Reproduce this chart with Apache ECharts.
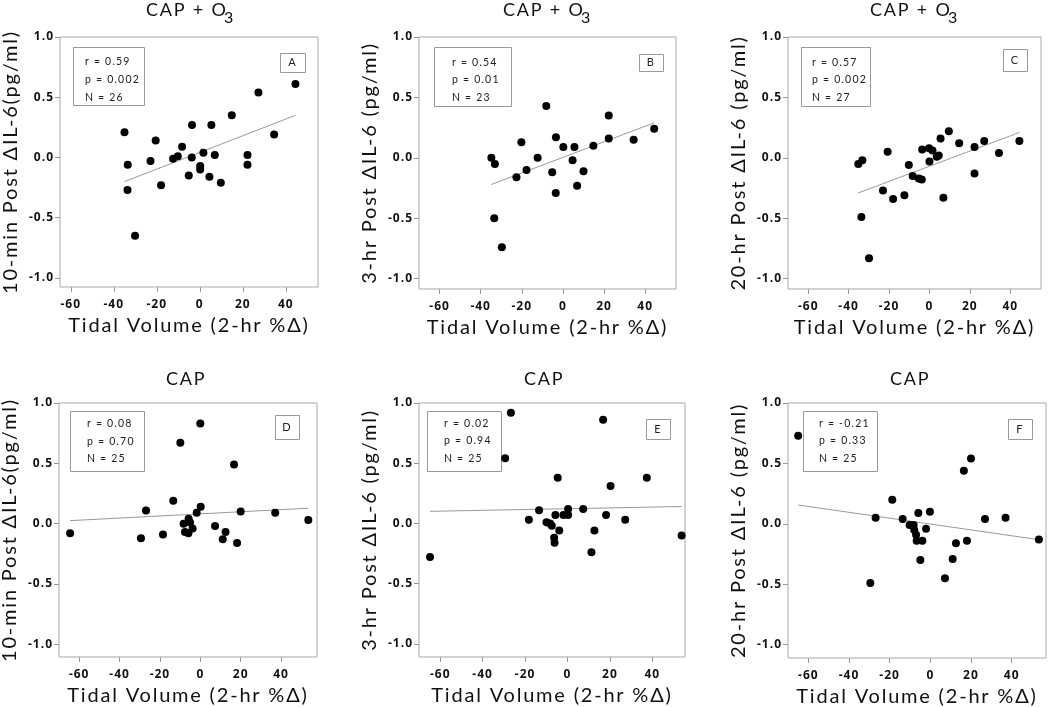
<!DOCTYPE html>
<html><head><meta charset="utf-8">
<script src="https://cdn.jsdelivr.net/npm/echarts@6/dist/echarts.min.js"></script>
<style>html,body{margin:0;padding:0;background:#fff}#c{width:1050px;height:707px}</style>
</head><body><div id="c"></div><script>
// ---------- data ----------
const xTicks = [-60, -40, -20, 0, 20, 40];
const yTicks = [-1, -0.5, 0, 0.5, 1];
const xTitle = 'Tidal Volume (2-hr %Δ)';

const aX = [-35.0,-33.5,-33.6,-30.1,-22.9,-20.5,-18.0,-12.4,-10.2,-8.2,-5.1,-3.6,-3.7,0.2,0.2,1.7,4.5,5.4,7.0,9.8,14.9,22.2,22.2,27.3,34.6,44.5];
const aY = [0.21,-0.06,-0.27,-0.65,-0.03,0.14,-0.23,-0.01,0.01,0.09,-0.15,0.27,0.0,-0.07,-0.10,0.04,-0.16,0.27,0.02,-0.21,0.35,0.02,-0.06,0.54,0.19,0.61];
const aFitX = [-35.0, 44.5];
const aFitY = [-0.20, 0.35];
const statsA = ['r = 0.59', 'p = 0.002', 'N = 26'];

const bX = [-34.8,-33.1,-33.4,-29.7,-22.6,-20.2,-17.7,-12.3,-8.1,-5.2,-3.4,-3.5,0.2,5.6,4.7,6.9,10.0,14.8,22.3,22.3,34.4,44.4];
const bY = [0.0,-0.05,-0.50,-0.74,-0.16,0.13,-0.10,0.0,0.43,-0.12,0.17,-0.29,0.09,0.09,-0.02,-0.23,-0.11,0.10,0.35,0.16,0.15,0.24];
const bFitX = [-34.8, 44.4];
const bFitY = [-0.22, 0.29];
const statsB = ['r = 0.54', 'p = 0.01', 'N = 23'];

const cX = [-35.2,-33.2,-33.7,-29.9,-23.0,-20.7,-18.0,-12.4,-10.2,-8.3,-5.3,-3.8,-3.6,-0.2,0.0,1.5,3.6,4.6,5.5,6.9,9.6,14.7,22.3,22.3,27.1,34.4,44.5];
const cY = [-0.05,-0.02,-0.49,-0.83,-0.27,0.05,-0.34,-0.31,-0.06,-0.15,-0.17,-0.18,0.07,0.08,-0.03,0.06,0.01,0.02,0.16,-0.33,0.22,0.12,0.09,-0.13,0.14,0.04,0.14];
const cFitX = [-35.2, 44.5];
const cFitY = [-0.29, 0.21];
const statsC = ['r = 0.57', 'p = 0.002', 'N = 27'];

const dX = [-64.5,-29.4,-26.9,-18.5,-13.4,-9.9,-8.3,-7.6,-5.9,-5.8,-5.1,-3.8,-1.8,0.0,0.2,7.3,11.1,12.5,16.7,18.2,20.0,37.1,53.5];
const dY = [-0.08,-0.12,0.11,-0.09,0.19,0.67,0.0,-0.07,-0.08,0.04,0.01,-0.04,0.09,0.83,0.14,-0.02,-0.13,-0.07,0.49,-0.16,0.10,0.09,0.03];
const dFitX = [-64.5, 53.5];
const dFitY = [0.025, 0.128];
const statsD = ['r = 0.08', 'p = 0.70', 'N = 25'];

const eX = [-64.8,-29.4,-26.7,-18.2,-13.4,-9.9,-8.2,-7.4,-6.3,-6.1,-5.7,-4.6,-3.9,-1.9,0.3,0.3,7.4,11.3,12.7,16.8,18.2,20.3,27.2,37.4,53.8];
const eY = [-0.28,0.54,0.92,0.03,0.11,0.01,0.0,-0.02,-0.12,-0.16,0.07,0.38,-0.06,0.07,0.12,0.07,0.12,-0.24,-0.06,0.86,0.07,0.31,0.03,0.38,-0.10];
const eFitX = [-64.8, 53.8];
const eFitY = [0.10, 0.14];
const statsE = ['r = 0.02', 'p = 0.94', 'N = 25'];

const fX = [-65.0,-29.5,-26.9,-18.7,-13.6,-10.2,-8.2,-7.9,-7.0,-6.7,-5.9,-4.9,-3.9,-2.1,-0.2,7.2,11.0,12.6,16.5,18.0,20.0,26.9,37.0,53.4];
const fY = [0.73,-0.49,0.05,0.20,0.04,-0.01,-0.01,-0.05,-0.09,-0.14,0.09,-0.30,-0.14,-0.04,0.10,-0.45,-0.29,-0.16,0.44,-0.14,0.54,0.04,0.05,-0.13];
const fFitX = [-65.0, 53.4];
const fFitY = [0.156, -0.131];
const statsF = ['r = -0.21', 'p = 0.33', 'N = 25'];

const panels = [
  {label:'A', title:'CAP + O', sub:'3', yName:'10-min Post ΔIL-6(pg/ml)', x:aX, y:aY, fx:aFitX, fy:aFitY, stats:statsA},
  {label:'B', title:'CAP + O', sub:'3', yName:'3-hr Post ΔIL-6 (pg/ml)', x:bX, y:bY, fx:bFitX, fy:bFitY, stats:statsB},
  {label:'C', title:'CAP + O', sub:'3', yName:'20-hr Post ΔIL-6 (pg/ml)', x:cX, y:cY, fx:cFitX, fy:cFitY, stats:statsC},
  {label:'D', title:'CAP', sub:'', yName:'10-min Post ΔIL-6(pg/ml)', x:dX, y:dY, fx:dFitX, fy:dFitY, stats:statsD},
  {label:'E', title:'CAP', sub:'', yName:'3-hr Post ΔIL-6 (pg/ml)', x:eX, y:eY, fx:eFitX, fy:eFitY, stats:statsE},
  {label:'F', title:'CAP', sub:'', yName:'20-hr Post ΔIL-6 (pg/ml)', x:fX, y:fY, fx:fFitX, fy:fFitY, stats:statsF}
];

// ---------- layout (pixels) ----------
const layout = [
  {l:60,  t:37,  w:258, h:250, xmin:-65, xmax:55,   ymin:-1.075, tx:146, ty:10,  sx:224, sy:18, st:[73,47,71,58],   stx:85,  sty:52.8,  lh:17.8, lb:[280,53,25,19]},
  {l:419, t:37,  w:257, h:252, xmin:-70, xmax:55,   ymin:-1.085, tx:503, ty:10,  sx:581, sy:18, st:[434,47,77,59],  stx:452, sty:53.5,  lh:17.5, lb:[639,54,24,17]},
  {l:788, t:37,  w:253, h:252, xmin:-70, xmax:55.2, ymin:-1.085, tx:870, ty:10,  sx:948, sy:18, st:[801,47,69,59],  stx:812, sty:53.5,  lh:17.5, lb:[1003,49,24,22]},
  {l:59,  t:403, w:258, h:254, xmin:-70, xmax:57.8, ymin:-1.105, tx:166, ty:379, sx:0,   sy:0,  st:[70,411,74,60],  stx:87,  sty:415.2, lh:17.5, lb:[275,415,24,24]},
  {l:419, t:403, w:266, h:254, xmin:-70, xmax:55.4, ymin:-1.11,  tx:524, ty:379, sx:0,   sy:0,  st:[427,411,74,60], stx:444, sty:414.5, lh:17.5, lb:[646,419,24,20]},
  {l:788, t:403, w:258, h:255, xmin:-70, xmax:56.9, ymin:-1.11,  tx:890, ty:379, sx:0,   sy:0,  st:[803,411,74,60], stx:819, sty:414.5, lh:17.5, lb:[1008,419,24,20]}
];

// letter spacing like the original figure (canvas text stays real text)
(function () {
  const proto = CanvasRenderingContext2D.prototype;
  const orig = proto.fillText;
  proto.fillText = function (t, x, y, m) {
    if ('letterSpacing' in this) {
      const mm = /(\d+(?:\.\d+)?)px/.exec(this.font || '');
      const s = mm ? parseFloat(mm[1]) : 12;
      this.letterSpacing = s >= 16 ? '1.8px' : (s >= 12 ? '1px' : '1.2px');
    }
    return m === undefined ? orig.call(this, t, x, y) : orig.call(this, t, x, y, m);
  };
})();

const FONT = 'Lato, "Open Sans", sans-serif';
const TICKFONT = '"Open Sans", Lato, sans-serif';
const grids = [], xAxes = [], yAxes = [], series = [], graphics = [];

panels.forEach((p, i) => {
  const L = layout[i];
  grids.push({left:L.l, top:L.t, width:L.w, height:L.h, show:true, borderColor:'#a9a9a9', borderWidth:1,
              backgroundColor:'transparent', containLabel:false, outerBoundsMode:'none'});
  xAxes.push({
    gridIndex:i, type:'value', min:L.xmin, max:L.xmax,
    axisLine:{show:false, onZero:false}, splitLine:{show:false},
    axisTick:{show:true, customValues:xTicks, length:5, lineStyle:{color:'#999'}},
    axisLabel:{customValues:xTicks, margin:12, fontSize:12, fontWeight:'bold', fontFamily:TICKFONT, color:'#111'},
    name:xTitle, nameLocation:'middle', nameGap:29,
    nameTextStyle:{fontSize:20, fontFamily:FONT, color:'#111'}
  });
  yAxes.push({
    gridIndex:i, type:'value', min:L.ymin, max:1.0,
    axisLine:{show:false, onZero:false}, splitLine:{show:false},
    axisTick:{show:true, customValues:yTicks, length:5, lineStyle:{color:'#999'}},
    axisLabel:{customValues:yTicks, margin:6, fontSize:12, fontWeight:'bold', fontFamily:TICKFONT, color:'#111',
               formatter:v => Number(v).toFixed(1)},
    name:p.yName, nameLocation:'middle', nameGap:39, nameRotate:90,
    nameTextStyle:{fontSize:20, fontFamily:FONT, color:'#111'}
  });
  series.push({
    type:'line', xAxisIndex:i, yAxisIndex:i, silent:true, symbol:'none', showSymbol:false,
    data:p.fx.map((v, k) => [v, p.fy[k]]), lineStyle:{color:'#9a9a9a', width:1}, z:2
  });
  series.push({
    type:'scatter', xAxisIndex:i, yAxisIndex:i, symbolSize:8,
    data:p.x.map((v, k) => [v, p.y[k]]), itemStyle:{color:'#000', opacity:1}, z:3
  });
  // panel title
  graphics.push({type:'text', x:L.tx, y:L.ty, style:{text:p.title, fontSize:18, fontFamily:FONT, fill:'#111', align:'left', verticalAlign:'middle'}});
  if (p.sub) graphics.push({type:'text', x:L.sx, y:L.sy, style:{text:p.sub, fontSize:16, fontFamily:FONT, fill:'#111', align:'left', verticalAlign:'middle'}});
  // stats box
  graphics.push({type:'rect', shape:{x:L.st[0]+0.5, y:L.st[1]+0.5, width:L.st[2], height:L.st[3]}, style:{fill:'#fff', stroke:'#999', lineWidth:1}});
  graphics.push({type:'text', x:L.stx, y:L.sty, style:{text:p.stats.join('\n'), fontSize:10.5, lineHeight:L.lh, fontFamily:FONT, fill:'#222', align:'left', verticalAlign:'top'}});
  // panel letter box
  graphics.push({type:'rect', shape:{x:L.lb[0]+0.5, y:L.lb[1]+0.5, width:L.lb[2], height:L.lb[3]}, style:{fill:'#fff', stroke:'#999', lineWidth:1}});
  graphics.push({type:'text', x:L.lb[0]+L.lb[2]/2, y:L.lb[1]+L.lb[3]/2, style:{text:p.label, fontSize:11, fontFamily:FONT, fill:'#222', align:'center', verticalAlign:'middle'}});
});

const dom = document.getElementById('c');
const chart = echarts.init(dom, null, {renderer:'canvas'});
chart.setOption({
  animation:false,
  backgroundColor:'#fff',
  grid:grids, xAxis:xAxes, yAxis:yAxes, series:series, graphic:graphics
});
</script></body></html>
